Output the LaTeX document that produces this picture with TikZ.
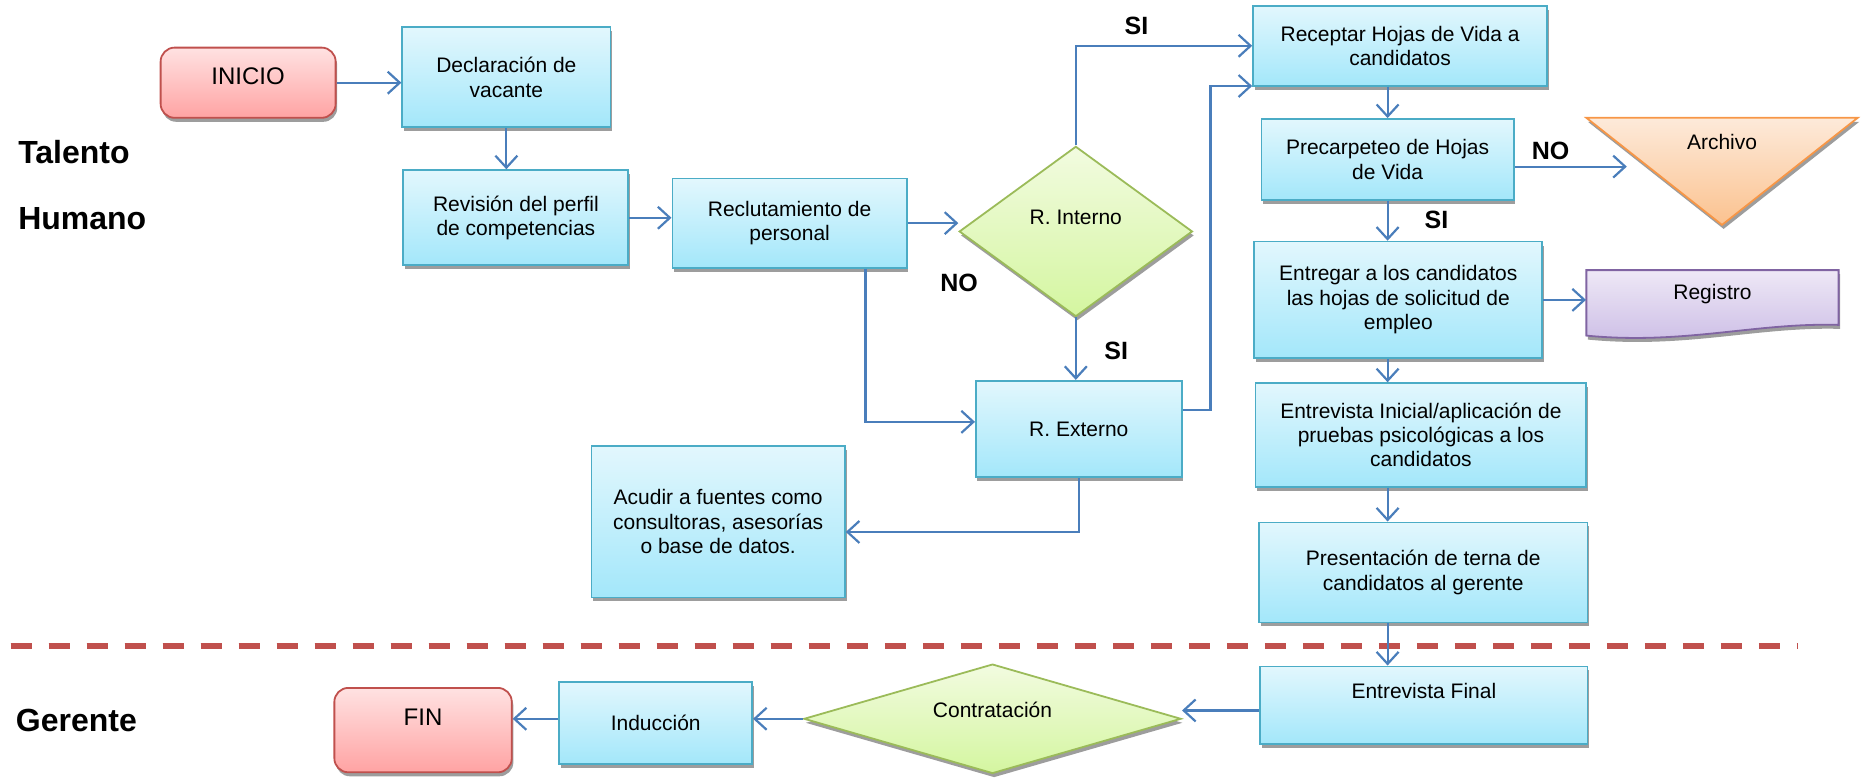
\documentclass[tikz,border=0pt]{standalone}
\usepackage{fontspec}
\setmainfont{Liberation Sans}
\usetikzlibrary{arrows.meta,shapes.geometric,shadows,calc}
\definecolor{procT}{RGB}{226,247,253}
\definecolor{procB}{RGB}{163,231,250}
\definecolor{procD}{RGB}{75,172,198}
\definecolor{termT}{RGB}{255,226,226}
\definecolor{termB}{RGB}{255,163,163}
\definecolor{termD}{RGB}{192,80,77}
\definecolor{decT}{RGB}{242,251,224}
\definecolor{decB}{RGB}{212,246,160}
\definecolor{decD}{RGB}{155,187,89}
\definecolor{arcT}{RGB}{253,234,218}
\definecolor{arcB}{RGB}{251,194,143}
\definecolor{arcD}{RGB}{247,150,70}
\definecolor{regT}{RGB}{238,232,246}
\definecolor{regB}{RGB}{204,189,230}
\definecolor{regD}{RGB}{128,100,162}
\definecolor{arrC}{RGB}{74,126,187}
\definecolor{sepC}{RGB}{192,80,77}
\tikzset{
  shad/.style={drop shadow={shadow xshift=0.8pt, shadow yshift=-2pt, fill=black!55, opacity=.7}},
  procbox/.style={shad, draw=procD, line width=0.9pt, top color=procT, bottom color=procB, inner sep=0pt, align=center},
  termbox/.style={shad, draw=termD, line width=0.9pt, top color=termT, bottom color=termB, inner sep=0pt, rounded corners=7pt},
  termtext/.style={font=\fontsize{12}{14}\selectfont},
  decbox/.style={shad, diamond, draw=decD, line width=0.9pt, top color=decT, bottom color=decB, inner sep=0pt},
  archshape/.style={shad, draw=arcD, line width=0.9pt, top color=arcT, bottom color=arcB},
  regshape/.style={shad, draw=regD, line width=0.9pt, top color=regT, bottom color=regB},
  arr/.style={draw=arrC, line width=1.1pt, -{Straight Barb[length=6pt,width=11pt]}},
  lane/.style={font=\bfseries\fontsize{16}{19}\selectfont, anchor=west, inner sep=0pt},
  yn/.style={font=\bfseries\fontsize{12.5}{15}\selectfont, inner sep=0pt},
  sepshadow/.style={line width=3pt, draw=black!38, dash pattern=on 10.5pt off 8.5pt, yshift=-2.6pt},
  sepline/.style={line width=3pt, draw=sepC, dash pattern=on 10.5pt off 8.5pt},
  sz/.style 2 args={minimum width=#1, minimum height=#2},
}
\begin{document}
\begin{tikzpicture}[x=0.595pt,y=-0.595pt, font=\fontsize{10.5}{12.2}\selectfont]
\useasboundingbox (0,0) rectangle (1568,655);

% lane separator
\coordinate (sepL) at (9,542.5);
\coordinate (sepR) at (1510,542.5);
\draw[sepshadow] (sepL) -- (sepR);
\draw[sepline] (sepL) -- (sepR);

% lane titles
\node[lane] (tal) at (15,128) {Talento};
\node[lane] (hum) at (15,184) {Humano};
\node[lane] (ger) at (13,605) {Gerente};

% nodes
\node[termbox, sz={87.5pt}{35.1pt}, label={[termtext, yshift=3.3pt]center:INICIO}] (inicio) at (208.5,69.5) {};
\node[procbox, sz={104.1pt}{50pt}] (decl) at (425.5,65) {Declaración de\\vacante};
\node[procbox, sz={112.5pt}{47.6pt}] (rev) at (433.5,183) {Revisión del perfil\\de competencias};
\node[procbox, sz={117.2pt}{44.6pt}] (recl) at (663.5,187.5) {Reclutamiento de\\personal};
\node[decbox, sz={116.6pt}{85.1pt}, label={[yshift=7pt]center:R. Interno}] (rint) at (904,194.5) {};
\node[procbox, sz={102.9pt}{48.2pt}] (rext) at (906.5,360.5) {R. Externo};
\node[procbox, sz={126.7pt}{75.6pt}] (acud) at (603.5,438.5) {Acudir a fuentes como\\consultoras, asesorías\\o base de datos.};
\node[procbox, sz={147pt}{39.9pt}] (recep) at (1176.5,38.5) {Receptar Hojas de Vida a\\candidatos};
\node[procbox, sz={126.1pt}{40.5pt}] (precar) at (1166,134) {Precarpeteo de Hojas\\de Vida};
\node[procbox, sz={144pt}{58.3pt}] (entreg) at (1175,252) {Entregar a los candidatos\\las hojas de solicitud de\\empleo};
\node[procbox, sz={165.4pt}{51.8pt}] (einic) at (1194,365.5) {Entrevista Inicial/aplicación de\\pruebas psicológicas a los\\candidatos};
\node[procbox, sz={164.2pt}{50pt}] (pres) at (1196,481) {Presentación de terna de\\candidatos al gerente};
\node[procbox, sz={163.6pt}{38.7pt}, label={[yshift=7pt]center:Entrevista Final}] (efin) at (1196.5,592.5) {};
\node[decbox, aspect=3.4, sz={188.6pt}{54.7pt}, label={[yshift=4.5pt]center:Contratación}] (contr) at (834,604) {};
\node[procbox, sz={96.4pt}{41.1pt}] (induc) at (551,607.5) {Inducción};
\node[termbox, sz={88.7pt}{42.2pt}, label={[termtext, yshift=6.2pt]center:FIN}] (fin) at (355.5,613.5) {};

% Archivo (merge triangle)
\path[archshape] (1333,99) -- (1561,99) -- (1447,189) -- cycle;
\node (arch) at (1447,119) {Archivo};
\coordinate (archin) at (1367,140);

% Registro (document)
\path[regshape] (1333,227) -- (1545,227) -- (1545,273) .. controls (1475,271) and (1415,290) .. (1333,282) -- cycle;
\node[sz={126.1pt}{27.4pt}, inner sep=0pt, label={[yshift=1.8pt]center:Registro}] (reg) at (1439,250) {};

% connectors
\draw[arr] (inicio.east) -- (inicio.east -| decl.west);
\draw[arr] (decl.south) -- (decl.south |- rev.north);
\draw[arr] (rev.east) -- (rev.east -| recl.west);
\draw[arr] (recl.east) -- (recl.east -| rint.west);
\draw[arr] (rint.north) |- (recep.west);
\draw[arr] (rint.south) -- (rint.south |- rext.north);
\draw[arr] ($(recl.south west)+(163,0)$) |- ($(rext.west)+(0,-6)$);
\draw[arr] (rext.south) |- ($(acud.east)+(0,8.5)$);
\draw[arr] ($(rext.east)+(0,-16)$) -| ($(recep.south west)+(-35,-0.5)$) -- ($(recep.south west)+(0,-0.5)$);
\draw[arr] (precar.north |- recep.south) -- (precar.north);
\draw[arr] ($(precar.east)+(0,6)$) -- (archin);
\draw[arr] (precar.south) -- (precar.south |- entreg.north);
\draw[arr] (entreg.east) -- (entreg.east -| reg.west);
\draw[arr] (entreg.south -| precar.south) -- (einic.north -| precar.south);
\draw[arr] (einic.south -| precar.south) -- (pres.north -| precar.south);
\draw[arr] (pres.south -| precar.south) -- (efin.north -| precar.south);
\coordinate (efa) at ($(efin.west)+(0,4.5)$);
\draw[arr] (efa) -- (efa -| contr.east);
\draw[arr] (contr.west) -- (contr.west -| induc.east);
\draw[arr] (induc.west |- contr.west) -- (fin.east |- contr.west);

% decision labels
\node[yn] (si1) at (955,22) {SI};
\node[yn] (no1) at (806,238) {NO};
\node[yn] (si2) at (938,295) {SI};
\node[yn] (no2) at (1303,127) {NO};
\node[yn] (si3) at (1207,185) {SI};
\end{tikzpicture}
\end{document}
